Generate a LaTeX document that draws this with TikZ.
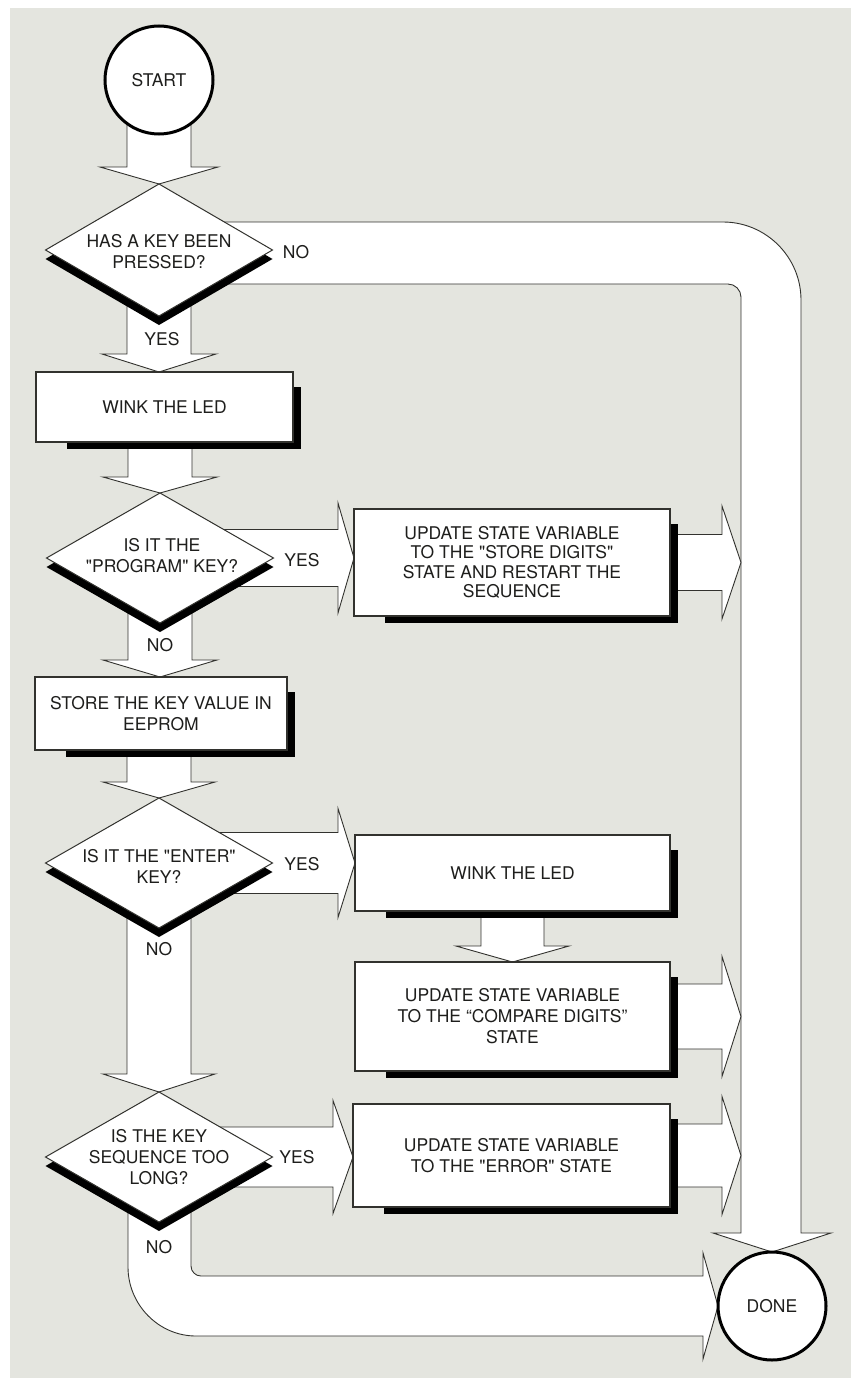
\documentclass[tikz,border=0pt]{standalone}
\usepackage{fontspec}
\setmainfont{TeX Gyre Heros}[Ligatures=TeXOff]
\usetikzlibrary{shapes.geometric,calc}
\definecolor{paper}{RGB}{228,229,223}
\definecolor{ink}{RGB}{30,30,28}
\definecolor{edge}{RGB}{50,50,46}
\pgfdeclarelayer{bglayer}
\pgfdeclarelayer{arrowlayer}
\pgfdeclarelayer{shadowlayer}
\pgfsetlayers{bglayer,arrowlayer,shadowlayer,main}
% downward block arrow: #1 start node, #2 tip, #3 half shaft, #4 half wing, #5 head length
\newcommand{\dnblock}[5]{\filldraw[blockline] let \p1=(#1), \p2=(#2) in (\x2-#3,\y1) -- (\x2-#3,\y2+#5) -- (\x2-#4,\y2+#5) -- (\x2,\y2) -- (\x2+#4,\y2+#5) -- (\x2+#3,\y2+#5) -- (\x2+#3,\y1);}
% rightward block arrow
\newcommand{\rtblock}[5]{\filldraw[blockline] let \p1=(#1), \p2=(#2) in (\x1,\y2+#3) -- (\x2-#5,\y2+#3) -- (\x2-#5,\y2+#4) -- (\x2,\y2) -- (\x2-#5,\y2-#4) -- (\x2-#5,\y2-#3) -- (\x1,\y2-#3);}
\newcommand{\boxshade}[1]{\fill[black] ($(#1.north east)+(8pt,-15pt)$) rectangle ($(#1.south west)+(31pt,-7pt)$);}
\newcommand{\diashade}[1]{\fill[black] ($(#1.north)+(0pt,-9pt)$) -- ($(#1.east)+(0pt,-9pt)$) -- ($(#1.south)+(0pt,-9pt)$) -- ($(#1.west)+(0pt,-9pt)$) -- cycle;}
\begin{document}
\begin{tikzpicture}[x=1pt,y=-1pt,
  every node/.style={font=\fontsize{17.5pt}{21pt}\selectfont, text=ink},
  blockline/.style={draw=edge, fill=white, line width=0.9pt, line join=miter},
  procbox/.style={draw=edge, fill=white, line width=1.2pt, rectangle, inner sep=0pt, outer sep=0pt, align=center},
  decision/.style={draw=edge, fill=white, line width=1pt, diamond, inner sep=0pt, outer sep=0pt, minimum width=227pt, minimum height=130pt},
  terminal/.style={draw=black, fill=white, line width=3pt, circle, inner sep=0pt, outer sep=0pt, minimum size=108pt},
  lbl/.style={inner sep=0pt, align=center}]
\useasboundingbox (0,0) rectangle (851,1378);
\begin{pgfonlayer}{bglayer}
\fill[white] (0,0) rectangle (851,1378);
\fill[paper] (10,8) rectangle (851,1378);
\end{pgfonlayer}

% nodes
\node[terminal] (start) at (159,80) {START};
\node[decision, minimum height=132pt] (d1) at (159,250) {};
\node[lbl] (d1t) at (159,252) {HAS A KEY BEEN\\PRESSED?};
\node[procbox, minimum width=257pt, minimum height=70pt] (wink1) at (164.5,407) {WINK THE LED};
\node[decision] (d2) at (160,558) {};
\node[lbl] (d2t) at (162,556) {IS IT THE\\"PROGRAM" KEY?};
\node[procbox, minimum width=316pt, minimum height=107pt, font=\fontsize{17.5pt}{19.5pt}\selectfont] (store2) at (512,562.5) {UPDATE STATE VARIABLE\\TO THE "STORE DIGITS"\\STATE AND RESTART THE\\SEQUENCE};
\node[procbox, minimum width=252pt, minimum height=73pt] (store) at (161,713.5) {STORE THE KEY VALUE IN\\EEPROM};
\node[decision] (d3) at (159,863) {};
\node[lbl] (d3t) at (159,866) {IS IT THE "ENTER"\\KEY?};
\node[procbox, minimum width=315pt, minimum height=76pt] (wink2) at (512.5,873) {WINK THE LED};
\node[procbox, minimum width=315pt, minimum height=109pt] (upd2) at (512.5,1016.5) {UPDATE STATE VARIABLE\\TO THE “COMPARE DIGITS”\\STATE};
\node[decision] (d4) at (159,1157) {};
\node[lbl] (d4t) at (159,1157) {IS THE KEY\\SEQUENCE TOO\\LONG?};
\node[procbox, minimum width=317pt, minimum height=103pt] (err) at (511.5,1155.5) {UPDATE STATE VARIABLE\\TO THE "ERROR" STATE};
\node[terminal] (done) at (772,1306) {DONE};

% labels
\node[lbl] (y1) at (162,339) {YES};
\node[lbl] (n1) at (296,252) {NO};
\node[lbl] (y2) at (302,560) {YES};
\node[lbl] (n2) at (160,645) {NO};
\node[lbl] (y3) at (302,864) {YES};
\node[lbl] (n3) at (159,949) {NO};
\node[lbl] (y4) at (297,1157) {YES};
\node[lbl] (n4) at (159,1247) {NO};

\coordinate (busL) at (741,0);

\begin{pgfonlayer}{arrowlayer}
% NO path from the first decision, down the right side to DONE
\filldraw[blockline] (159,222) -- (723,222) .. controls (766,222) and (801,257) .. (801,300) -- (801,1233) -- (831,1233) -- (done.north) -- (713,1233) -- (741,1233) -- (741,297) .. controls (741,290) and (735,284) .. (728,284) -- (159,284);
% NO path from the last decision along the bottom to DONE
\filldraw[blockline] (128,1157) -- (128,1267) .. controls (128,1304.5) and (158.5,1336) .. (196,1336) -- (703,1336) -- (703,1359) -- (done.west) -- (703,1253) -- (703,1276) -- (201,1276) .. controls (195.5,1276) and (191,1271.5) .. (191,1266) -- (191,1157);
% vertical arrows
\dnblock{start}{d1.north}{32pt}{59pt}{17pt}
\dnblock{d1}{d1 |- wink1.north}{32pt}{57pt}{18pt}
\dnblock{wink1}{d2.north}{32pt}{57pt}{16pt}
\dnblock{d2}{d2 |- store.north}{32pt}{57pt}{17pt}
\dnblock{store}{d3.north}{32pt}{56pt}{16pt}
\dnblock{d3}{d4.north}{32pt}{56pt}{18pt}
\dnblock{wink2}{upd2.north}{31.5pt}{56.5pt}{16pt}
% horizontal arrows
\rtblock{d2}{store2.west |- d2}{28.5pt}{55pt}{16pt}
\rtblock{d3}{wink2.west |- d3}{30.5pt}{54.5pt}{17pt}
\rtblock{d4}{err.west |- d4}{30pt}{56.5pt}{20pt}
\rtblock{store2}{busL |- store2}{28pt}{56.5pt}{19pt}
\rtblock{upd2}{busL |- upd2}{32.5pt}{60pt}{19pt}
\rtblock{err}{busL |- err}{31.5pt}{59pt}{19pt}
\end{pgfonlayer}

\begin{pgfonlayer}{shadowlayer}
\boxshade{wink1}
\boxshade{store2}
\boxshade{store}
\boxshade{wink2}
\boxshade{upd2}
\boxshade{err}
\diashade{d1}
\diashade{d2}
\diashade{d3}
\diashade{d4}
\end{pgfonlayer}
\end{tikzpicture}
\end{document}
